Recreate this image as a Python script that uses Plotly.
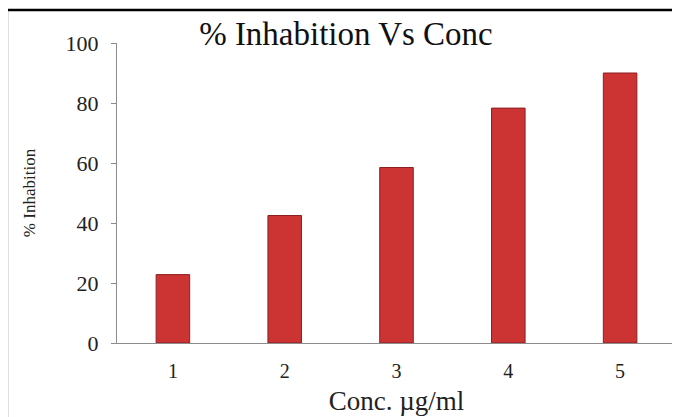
"""Bar chart: % inhibition against concentration."""

import plotly.graph_objects as go

CONC = ["1", "2", "3", "4", "5"]
INHIBITION = [22.8, 42.5, 58.5, 78.3, 90.0]
Y_TICKS = [0, 20, 40, 60, 80, 100]

SERIF = "Liberation Serif, Times New Roman, serif"

fig = go.Figure()
fig.add_trace(
    go.Bar(
        x=CONC,
        y=INHIBITION,
        width=0.3,
        marker={"color": "#cc3434", "line": {"color": "#8e1f1f", "width": 1}},
        hovertemplate="Conc %{x}<br>%{y:.1f}%<extra></extra>",
    )
)

# outer picture frame (only top and left edges show in the crop)
fig.add_shape(
    type="rect", xref="paper", yref="paper",
    x0=-0.197, x1=1.05, y0=-0.3, y1=1.11,
    line={"color": "black", "width": 2.5}, layer="above",
)

# page body adds ~8px offset, so margins are trimmed on top/left
fig.update_layout(
    width=680,
    height=417,
    paper_bgcolor="white",
    plot_bgcolor="white",
    showlegend=False,
    font={"family": SERIF, "color": "#222", "size": 18},
    margin={"l": 109, "r": 12, "t": 35, "b": 82},
    title={
        "text": "% Inhabition Vs Conc",
        "x": 0.497, "xanchor": "center",
        "y": 0.94, "yanchor": "middle",
        "font": {"size": 33, "family": SERIF, "color": "#111"},
    },
)
fig.update_xaxes(
    showline=True, linecolor="#8c8c8c", linewidth=1,
    ticks="", showgrid=False, tickfont={"size": 20},
    ticklabelstandoff=10, automargin=False,
    title={"text": "Conc. µg/ml", "font": {"size": 27}, "standoff": 10},
)
fig.update_yaxes(
    range=[0, 100], tickvals=Y_TICKS,
    showline=True, linecolor="#8c8c8c", linewidth=1,
    ticks="outside", ticklen=5, tickcolor="#8c8c8c",
    showgrid=False, zeroline=False, tickfont={"size": 22},
    ticklabelstandoff=8, automargin=False,
    title={"text": "% Inhabition", "font": {"size": 17}, "standoff": 25},
)

fig.write_html("out.html")
